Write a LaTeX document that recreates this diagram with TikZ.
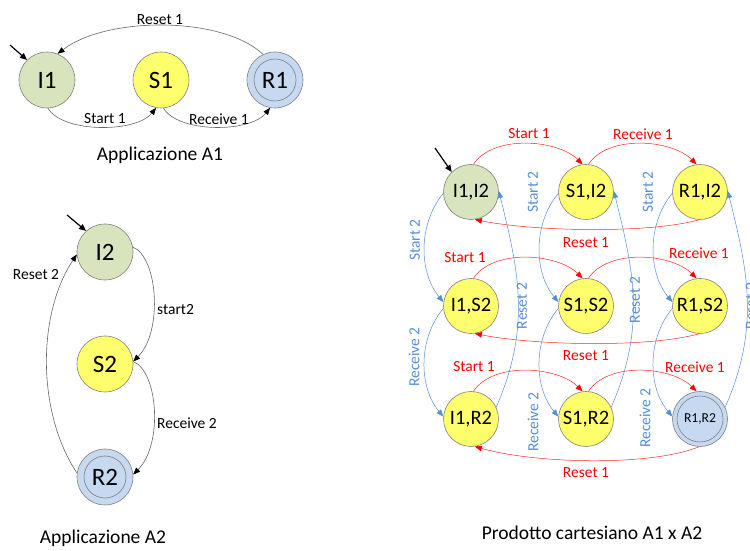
\documentclass[tikz,border=0pt]{standalone}
\usepackage{fontspec}
\setmainfont{Carlito}
\usetikzlibrary{arrows.meta}
\definecolor{gfill}{HTML}{D7E4BD}
\definecolor{yfill}{HTML}{FFFF6E}
\definecolor{bfill}{HTML}{C6D9F1}
\definecolor{bordc}{HTML}{7F7F7F}
\definecolor{redc}{HTML}{FF0000}
\definecolor{bluec}{HTML}{558ED5}
\begin{document}
\begin{tikzpicture}[x=1pt,y=1pt,
  state/.style={circle, draw=bordc, line width=0.6pt, inner sep=0pt, minimum size=56pt, font=\fontsize{25}{25}\selectfont},
  pstate/.style={state, minimum size=55pt, font=\fontsize{20.5}{20.5}\selectfont},
  gst/.style={fill=gfill},
  yst/.style={fill=yfill},
  bst/.style={fill=bfill},
  innerc/.style={circle, draw=bordc, line width=0.6pt, inner sep=0pt},
  blackarr/.style={draw=black!60, line width=0.6pt, -{Triangle[length=7pt,width=5.5pt,black]}},
  redarr/.style={draw=redc!85, line width=0.5pt, -{Triangle[length=7pt,width=5.5pt,redc]}},
  bluearr/.style={draw=bluec, line width=0.5pt, -{Triangle[length=7pt,width=5.5pt,bluec]}},
  initarr/.style={draw=black, line width=1.2pt, -{Triangle[length=7pt,width=6pt]}},
  elab/.style={font=\fontsize{15.5}{15.5}\selectfont, inner sep=1pt},
  rlab/.style={elab, text=redc},
  blab/.style={elab, text=bluec, rotate=90},
  caption/.style={font=\fontsize{19.5}{19.5}\selectfont}
]
\useasboundingbox (0,0) rectangle (750,551);

% ---------- Applicazione A1 ----------
\node[state,gst] (I1) at (47,471) {I1};
\node[state,yst] (S1) at (161,471) {S1};
\node[state,bst] (R1) at (275,471) {};
\node[innerc, minimum size=42pt, font=\fontsize{25}{25}\selectfont] (R1in) at (R1) {R1};
\coordinate (i1s) at (10,506);
\draw[initarr] (i1s) -- (I1.135);
\draw[blackarr] (R1.115) .. controls +(-40,38) and +(50,38) .. (I1.68);
\draw[blackarr] (I1.-88) .. controls +(15,-25) and +(-20,-25) .. (S1.-100);
\draw[blackarr] (S1.-85) .. controls +(15,-25) and +(-20,-25) .. (R1.-100);
\node[elab] (lr1) at (160,531) {Reset 1};
\node[elab] (ls1) at (105,432) {Start 1};
\node[elab] (lrc1) at (219,432) {Receive 1};
\node[caption] (capA1) at (160,396) {Applicazione A1};

% ---------- Applicazione A2 ----------
\node[state,gst] (I2) at (105,299) {I2};
\node[state,yst] (S2) at (105,187) {S2};
\node[state,bst] (R2) at (105,74) {};
\node[innerc, minimum size=42pt, font=\fontsize{25}{25}\selectfont] (R2in) at (R2) {R2};
\coordinate (i2s) at (67,336);
\draw[initarr] (i2s) -- (I2.132);
\draw[blackarr] (I2.10) .. controls +(25,-10) and +(30,30) .. (S2.5);
\draw[blackarr] (S2.5) .. controls +(25,-10) and +(30,30) .. (R2.5);
\draw[blackarr] (R2.172) .. controls +(-40,60) and +(-40,-60) .. (I2.185);
\node[elab, anchor=west] (lst2) at (156,241) {start2};
\node[elab, anchor=west] (lrc2) at (156,128) {Receive 2};
\node[elab] (lrs2) at (36,276) {Reset 2};
\node[caption] (capA2) at (103,13) {Applicazione A2};

% ---------- Prodotto cartesiano ----------
\node[pstate,gst] (II) at (471,359) {I1,I2};
\node[pstate,yst] (SI) at (586,359) {S1,I2};
\node[pstate,yst] (RI) at (700,359) {R1,I2};
\node[pstate,yst] (IS) at (471,245) {I1,S2};
\node[pstate,yst] (SS) at (586,245) {S1,S2};
\node[pstate,yst] (RS) at (700,245) {R1,S2};
\node[pstate,yst] (IR) at (471,132) {I1,R2};
\node[pstate,yst] (SR) at (586,132) {S1,R2};
\node[pstate,bst] (RR) at (700,132) {};
\node[innerc, minimum size=46pt, font=\fontsize{13.6}{13.6}\selectfont] (RRin) at (RR) {R1,R2};

\coordinate (ips) at (435,403);
\draw[initarr] (ips) -- (II.134);

% red transitions (A1 moves)
\foreach \r in {I,S,R}{
  \draw[redarr] (I\r.85) .. controls +(20,30) and +(-25,25) .. (S\r.97);
  \draw[redarr] (S\r.85) .. controls +(20,30) and +(-25,25) .. (R\r.97);
}
\draw[redarr] (RI.-92) .. controls +(-50,-14) and +(60,-12) .. (II.-82);
\draw[redarr] (RS.-92) .. controls +(-50,-14) and +(60,-12) .. (IS.-82);
\draw[redarr] (RR.-92) .. controls +(-50,-20) and +(60,-17) .. (IR.-82);

% blue transitions (A2 moves)
\foreach \c in {I,S,R}{
  \draw[bluearr] (\c I.183) .. controls +(-25,-30) and +(-25,30) .. (\c S.172);
  \draw[bluearr] (\c S.185) .. controls +(-25,-30) and +(-25,30) .. (\c R.175);
  \draw[bluearr] (\c R.25) .. controls +(35,80) and +(20,-80) .. (\c I.2);
}

% red labels
\node[rlab] (t1) at (529,417) {Start 1};
\node[rlab] (t2) at (643,417) {Receive 1};
\node[rlab] (t3) at (586,308) {Reset 1};
\node[rlab] (t4) at (465,293) {Start 1};
\node[rlab] (t5) at (699,298) {Receive 1};
\node[rlab] (t6) at (586,195) {Reset 1};
\node[rlab] (t7) at (474,184) {Start 1};
\node[rlab] (t8) at (695,184) {Receive 1};
\node[rlab] (t9) at (586,78) {Reset 1};

% blue labels
\node[blab] (b1) at (415,311) {Start 2};
\node[blab] (b2) at (414,194) {Receive 2};
\node[blab] (b3) at (522,245) {Reset 2};
\node[blab] (b4) at (533,359) {Start 2};
\node[blab] (b5) at (533,129) {Receive 2};
\node[blab] (b6) at (635,251) {Reset 2};
\node[blab] (b7) at (648,359) {Start 2};
\node[blab] (b8) at (645,133) {Receive 2};
\node[blab] (b9) at (751,245) {Reset 2};

\node[caption] (capP) at (592,18) {Prodotto cartesiano A1 x A2};
\end{tikzpicture}
\end{document}
